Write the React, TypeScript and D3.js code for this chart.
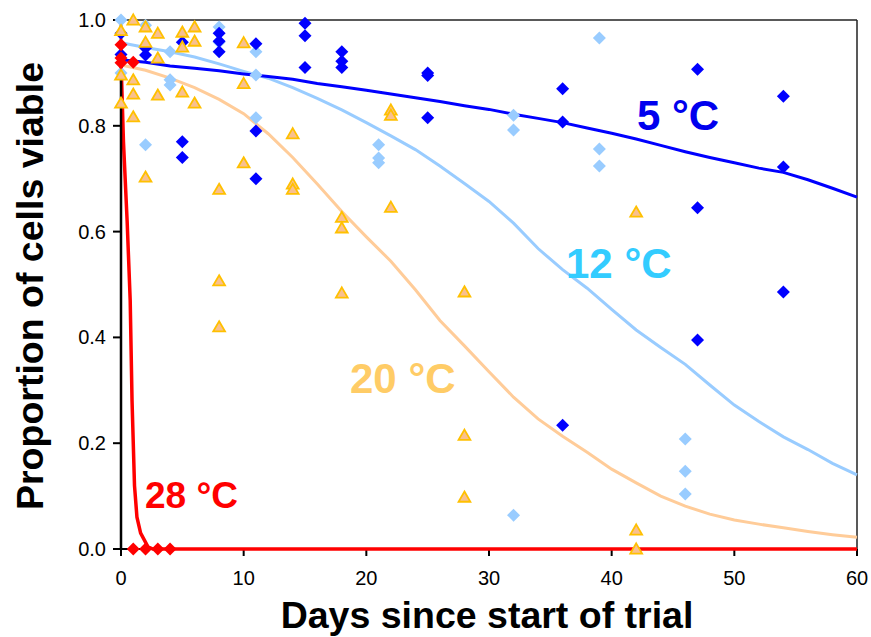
import React from 'react';
import * as d3 from 'd3';

// observations: [day, proportion viable]
const obs5: [number, number][] = [
  [0, 0.975], [0, 0.935], [2, 0.947], [2, 0.934], [5, 0.958], [5, 0.77], [5, 0.74],
  [8, 0.975], [8, 0.96], [8, 0.94], [11, 0.955], [11, 0.79], [11, 0.7],
  [15, 0.994], [15, 0.97], [15, 0.91], [18, 0.94], [18, 0.922], [18, 0.91],
  [25, 0.9], [25, 0.895], [25, 0.815], [36, 0.87], [36, 0.807], [36, 0.234],
  [47, 0.907], [47, 0.645], [47, 0.395], [54, 0.856], [54, 0.722], [54, 0.486],
];
const obs12: [number, number][] = [
  [0, 1.0], [0, 0.9], [2, 0.99], [2, 0.764], [4, 0.94], [4, 0.887], [4, 0.877],
  [8, 0.987], [8, 0.958], [11, 0.94], [11, 0.896], [11, 0.815],
  [21, 0.764], [21, 0.739], [21, 0.73], [32, 0.82], [32, 0.792], [32, 0.064],
  [39, 0.966], [39, 0.756], [39, 0.724], [46, 0.208], [46, 0.147], [46, 0.104],
];
const obs20: [number, number][] = [
  [0, 0.98], [0, 0.896], [0, 0.843], [1, 1.0], [1, 0.887], [1, 0.86], [1, 0.817],
  [2, 0.987], [2, 0.958], [2, 0.703], [3, 0.975], [3, 0.928], [3, 0.858],
  [5, 0.977], [5, 0.949], [5, 0.864], [6, 0.987], [6, 0.96], [6, 0.843],
  [8, 0.68], [8, 0.507], [8, 0.42], [10, 0.957], [10, 0.88], [10, 0.73],
  [14, 0.785], [14, 0.69], [14, 0.68], [18, 0.627], [18, 0.607], [18, 0.484],
  [22, 0.83], [22, 0.82], [22, 0.646], [28, 0.486], [28, 0.215], [28, 0.098],
  [42, 0.637], [42, 0.036], [42, 0.0],
];
const obs28: [number, number][] = [
  [0, 0.953], [0, 0.928], [0, 0.919], [1, 0.92], [1, 0], [2, 0], [3, 0], [4, 0],
];

// fitted curves
const fitDays = [0, 2, 4, 6, 8, 10, 12, 14, 16, 18, 20, 22, 24, 26, 28, 30, 32, 34, 36, 38, 40, 42, 44, 46, 48, 50, 52, 54, 56, 58, 60];
const fit5 = [0.925, 0.92, 0.913, 0.909, 0.904, 0.898, 0.893, 0.888, 0.88, 0.874, 0.867, 0.86, 0.853, 0.846, 0.838, 0.831, 0.822, 0.814, 0.806, 0.796, 0.786, 0.775, 0.763, 0.751, 0.74, 0.73, 0.72, 0.712, 0.698, 0.682, 0.665];
const fit12 = [0.957, 0.948, 0.94, 0.93, 0.917, 0.903, 0.89, 0.872, 0.852, 0.83, 0.806, 0.781, 0.755, 0.724, 0.691, 0.657, 0.616, 0.568, 0.528, 0.493, 0.453, 0.414, 0.381, 0.349, 0.31, 0.272, 0.241, 0.212, 0.188, 0.162, 0.14];
const fit20 = [0.915, 0.905, 0.89, 0.872, 0.85, 0.823, 0.785, 0.74, 0.69, 0.638, 0.59, 0.544, 0.49, 0.432, 0.384, 0.335, 0.287, 0.246, 0.213, 0.183, 0.151, 0.125, 0.1, 0.081, 0.066, 0.055, 0.047, 0.04, 0.033, 0.027, 0.022];
const fit28Days = [0, 0.2, 0.5, 0.75, 0.9, 1.1, 1.3, 1.6, 2.2, 2.6, 60];
const fit28 = [0.925, 0.77, 0.62, 0.47, 0.28, 0.12, 0.06, 0.03, 0.004, 0, 0];

const xTicks = [0, 10, 20, 30, 40, 50, 60];
const yTicks = [0, 0.2, 0.4, 0.6, 0.8, 1.0];

const FONT = 'Liberation Sans, Arial, Helvetica, sans-serif';

export default function App() {
  const x = d3.scaleLinear().domain([0, 60]).range([121, 857]);
  const y = d3.scaleLinear().domain([0, 1]).range([549, 20]);

  const line = d3
    .line<[number, number]>()
    .x((d) => x(d[0]))
    .y((d) => y(d[1]));

  const pairs = (days: number[], vals: number[]) =>
    days.map((d, i) => [d, vals[i]] as [number, number]);

  const diamond = 'M0,-6.5L6.5,0L0,6.5L-6.5,0Z';
  const triangle = 'M0,-5.6L5.9,4.6L-5.9,4.6Z';

  return (
    <svg
      width={871}
      height={637}
      style={{ position: 'absolute', left: 0, top: 0, background: '#fff' }}
      fontFamily={FONT}
    >
      {/* frame */}
      <line x1={121} x2={857} y1={20} y2={20} stroke="#222" strokeWidth={1.5} />
      <line x1={857} x2={857} y1={20} y2={549} stroke="#222" strokeWidth={1.5} />
      <line x1={121} x2={857} y1={549} y2={549} stroke="#000" strokeWidth={2} />

      {/* x axis ticks */}
      {xTicks.map((t) => (
        <g key={'x' + t}>
          <line x1={x(t)} x2={x(t)} y1={549} y2={556} stroke="#000" strokeWidth={2} />
          <text x={x(t)} y={585} textAnchor="middle" fontSize={20} fill="#000">
            {t}
          </text>
        </g>
      ))}

      {/* y axis ticks */}
      {yTicks.map((t) => (
        <g key={'y' + t}>
          <line x1={113} x2={121} y1={y(t)} y2={y(t)} stroke="#000" strokeWidth={2} />
          <text x={106} y={y(t) + 7} textAnchor="end" fontSize={20} fill="#000">
            {d3.format('.1f')(t)}
          </text>
        </g>
      ))}

      {/* fitted lines */}
      <path d={line(pairs(fitDays, fit20)) ?? ''} fill="none" stroke="#FFCC99" strokeWidth={3} />
      <path d={line(pairs(fitDays, fit12)) ?? ''} fill="none" stroke="#99CCFF" strokeWidth={3} />
      <path d={line(pairs(fitDays, fit5)) ?? ''} fill="none" stroke="#0000FF" strokeWidth={3} />
      <path d={line(pairs(fit28Days, fit28)) ?? ''} fill="none" stroke="#FF0000" strokeWidth={3.5} />

      {/* y axis line */}
      <line x1={121} x2={121} y1={20} y2={549} stroke="#000" strokeWidth={2.5} />

      {/* observations */}
      {obs12.map((d, i) => (
        <path key={'b' + i} d={diamond} transform={`translate(${x(d[0])},${y(d[1])})`} fill="#99CCFF" />
      ))}
      {obs5.map((d, i) => (
        <path key={'a' + i} d={diamond} transform={`translate(${x(d[0])},${y(d[1])})`} fill="#0000FF" />
      ))}
      {obs20.map((d, i) => (
        <path
          key={'c' + i}
          d={triangle}
          transform={`translate(${x(d[0])},${y(d[1])})`}
          fill="#F9C08F"
          stroke="#FFC000"
          strokeWidth={1.8}
          strokeLinejoin="miter"
        />
      ))}
      {obs28.map((d, i) => (
        <path key={'d' + i} d={diamond} transform={`translate(${x(d[0])},${y(d[1])})`} fill="#FF0000" />
      ))}

      {/* series labels */}
      <text x={637} y={130} fontSize={42} fontWeight="bold" fill="#0000EE">5 °C</text>
      <text x={566} y={278} fontSize={42} fontWeight="bold" fill="#33CCFF">12 °C</text>
      <text x={350} y={393} fontSize={42} fontWeight="bold" fill="#FFCC66">20 °C</text>
      <text x={145} y={508} fontSize={37} fontWeight="bold" fill="#FF0000">28 °C</text>

      {/* axis titles */}
      <text x={487} y={628} textAnchor="middle" fontSize={37.5} fontWeight="bold" fill="#000">
        Days since start of trial
      </text>
      <text
        transform="translate(43,286) rotate(-90)"
        textAnchor="middle"
        fontSize={37.5}
        fontWeight="bold"
        fill="#000"
      >
        Proportion of cells viable
      </text>
    </svg>
  );
}
